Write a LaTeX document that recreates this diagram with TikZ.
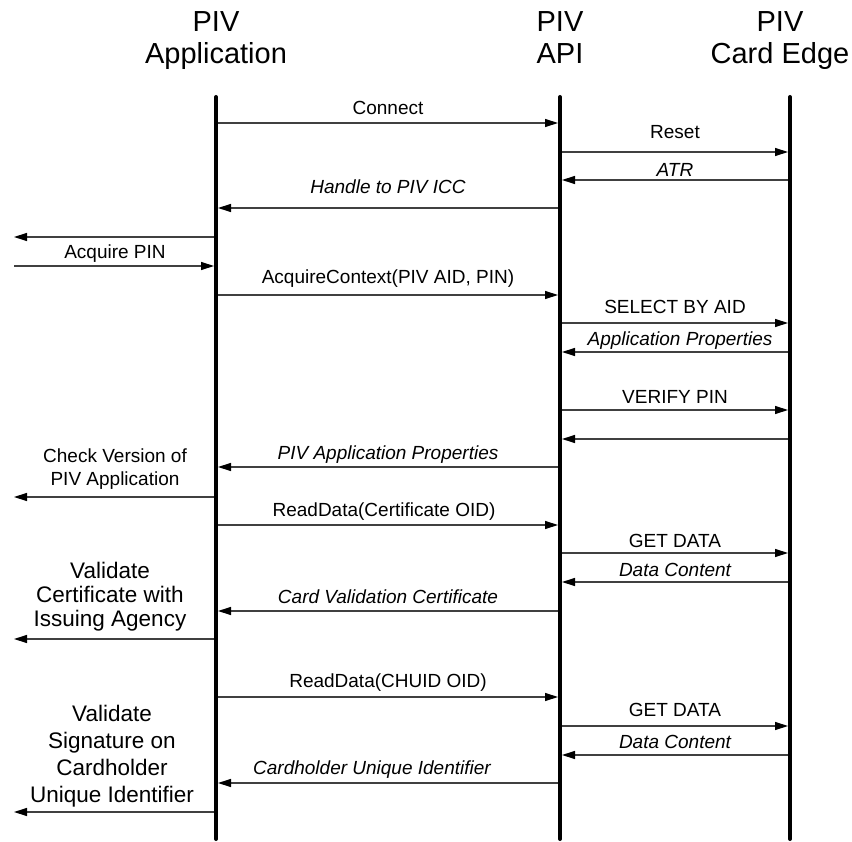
\documentclass[tikz,border=0pt]{standalone}
\usepackage{fontspec}
\setmainfont{Liberation Sans}
\usetikzlibrary{arrows.meta}
\begin{document}
\begin{tikzpicture}[x=1pt,y=-1pt,
  lifeline/.style={line width=4pt, line cap=round},
  msg/.style={draw=black!75, line width=1.3pt,
    -{Triangle[length=13pt,width=8pt,color=black]},
    shorten >=2pt, shorten <=2pt},
  tolife/.style={msg, shorten <=0pt},
  fromlife/.style={msg, shorten >=0pt},
  hdr/.style={font=\fontsize{29}{32}\selectfont, anchor=base, inner sep=0pt},
  lbl/.style={font=\fontsize{19}{22}\selectfont, anchor=base, inner sep=0pt},
  ilbl/.style={lbl, font=\fontsize{19}{22}\selectfont\itshape},
  note/.style={font=\fontsize{22.5}{26}\selectfont, anchor=base, inner sep=0pt}]

\useasboundingbox (0,0) rectangle (852,842);

% participants
\node[hdr] (h1a) at (216,32) {PIV};
\node[hdr] (h1b) at (216,64) {Application};
\node[hdr] (h2a) at (560,32) {PIV};
\node[hdr] (h2b) at (560,64) {API};
\node[hdr] (h3a) at (780,32) {PIV};
\node[hdr] (h3b) at (780,64) {Card Edge};

% lifelines
\coordinate (app) at (216,97);  \coordinate (appEnd) at (216,839);
\coordinate (api) at (560,97);  \coordinate (apiEnd) at (560,839);
\coordinate (card) at (790,97); \coordinate (cardEnd) at (790,839);
\coordinate (ext) at (14,97);
\draw[lifeline] (app) -- (appEnd);
\draw[lifeline] (api) -- (apiEnd);
\draw[lifeline] (card) -- (cardEnd);

% connect
\draw[msg] (app |- 0,123) -- (api |- 0,123);
\node[lbl] (m1) at (388,115) {Connect};
\draw[msg] (api |- 0,152) -- (card |- 0,152);
\node[lbl] (m2) at (675,139) {Reset};
\draw[msg] (card |- 0,180) -- (api |- 0,180);
\node[ilbl] (m3) at (675,177) {ATR};
\draw[msg] (api |- 0,208) -- (app |- 0,208);
\node[ilbl] (m4) at (388,194) {Handle to PIV ICC};

% PIN entry and context
\draw[fromlife] (app |- 0,237) -- (ext |- 0,237);
\draw[tolife] (ext |- 0,266) -- (app |- 0,266);
\node[lbl] (m5) at (115,259) {Acquire PIN};
\draw[msg] (app |- 0,295) -- (api |- 0,295);
\node[lbl] (m6) at (388,284) {AcquireContext(PIV AID, PIN)};
\draw[msg] (api |- 0,323) -- (card |- 0,323);
\node[lbl] (m7) at (675,314) {SELECT BY AID};
\draw[msg] (card |- 0,352) -- (api |- 0,352);
\node[ilbl] (m8) at (680,346) {Application Properties};
\draw[msg] (api |- 0,410) -- (card |- 0,410);
\node[lbl] (m9) at (675,403) {VERIFY PIN};
\draw[msg] (card |- 0,439) -- (api |- 0,439);
\draw[msg] (api |- 0,467) -- (app |- 0,467);
\node[ilbl] (m10) at (388,459) {PIV Application Properties};
\draw[fromlife] (app |- 0,497) -- (ext |- 0,497);
\node[lbl] (n1a) at (115,462) {Check Version of};
\node[lbl] (n1b) at (115,485) {PIV Application};

% certificate
\draw[msg] (app |- 0,525) -- (api |- 0,525);
\node[lbl] (m11) at (384,516) {ReadData(Certificate OID)};
\draw[msg] (api |- 0,553) -- (card |- 0,553);
\node[lbl] (m12) at (675,547) {GET DATA};
\draw[msg] (card |- 0,582) -- (api |- 0,582);
\node[ilbl] (m13) at (675,576) {Data Content};
\draw[msg] (api |- 0,611) -- (app |- 0,611);
\node[ilbl] (m14) at (388,603) {Card Validation Certificate};
\draw[fromlife] (app |- 0,639) -- (ext |- 0,639);
\node[note] (n2a) at (110,578) {Validate};
\node[note] (n2b) at (110,602) {Certificate with};
\node[note] (n2c) at (110,626) {Issuing Agency};

% CHUID
\draw[msg] (app |- 0,697) -- (api |- 0,697);
\node[lbl] (m15) at (388,687) {ReadData(CHUID OID)};
\draw[msg] (api |- 0,726) -- (card |- 0,726);
\node[lbl] (m16) at (675,716) {GET DATA};
\draw[msg] (card |- 0,755) -- (api |- 0,755);
\node[ilbl] (m17) at (675,748) {Data Content};
\draw[msg] (api |- 0,783) -- (app |- 0,783);
\node[ilbl] (m18) at (372,774) {Cardholder Unique Identifier};
\draw[fromlife] (app |- 0,812) -- (ext |- 0,812);
\node[note] (n3a) at (112,721) {Validate};
\node[note] (n3b) at (112,748) {Signature on};
\node[note] (n3c) at (112,775) {Cardholder};
\node[note] (n3d) at (112,802) {Unique Identifier};
\end{tikzpicture}
\end{document}
